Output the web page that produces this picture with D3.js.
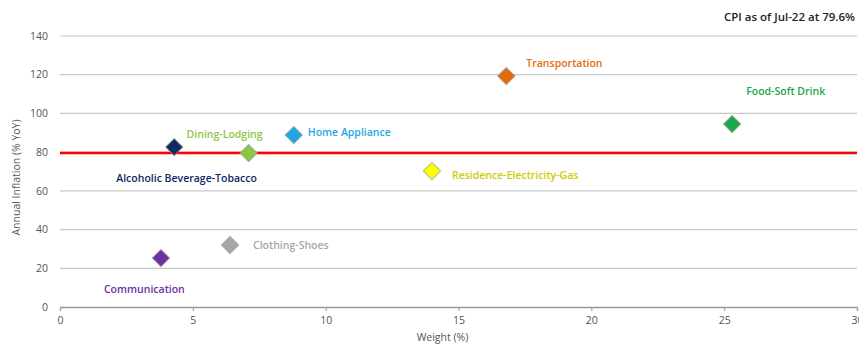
<!DOCTYPE html>
<html>
<head>
<meta charset="utf-8">
<script src="https://cdnjs.cloudflare.com/ajax/libs/d3/7.8.5/d3.min.js"></script>
<style>
  body { margin: 0; background: #fff; }
  svg { font-family: "Open Sans", "Noto Sans", sans-serif; }
</style>
</head>
<body>
<div id="chart"></div>
<script>
// data
const categories = ["Alcoholic Beverage-Tobacco", "Dining-Lodging", "Home Appliance", "Transportation",
                    "Food-Soft Drink", "Residence-Electricity-Gas", "Clothing-Shoes", "Communication"];
const weights   = [4.3, 7.1, 8.8, 16.8, 25.3, 14.0, 6.4, 3.8];
const inflation = [82.6, 79.5, 88.8, 119.3, 94.5, 70.2, 32.0, 25.3];
const colors    = ["#0d2a63", "#8dc63f", "#1ea7e1", "#e36c0a", "#17a84b", "#ffff00", "#a6a6a6", "#7030a0"];
const labelColors = ["#0d2a63", "#8dc63f", "#1ea7e1", "#e36c0a", "#17a84b", "#cccc00", "#a6a6a6", "#7030a0"];
// label offsets relative to the marker (dx, dy)
const labelOffsets = [[-58, 31], [-62, -19], [14, -3], [20, -13], [14, -33], [20, 4], [23, 0], [-57, 31]];
const cpi = 79.6;
const xTicks = [0, 5, 10, 15, 20, 25, 30];
const yTicks = [0, 20, 40, 60, 80, 100, 120, 140];

const width = 859, height = 345;
const margin = { top: 36, right: 2, bottom: 38, left: 60 };

const svg = d3.select("#chart").append("svg")
    .attr("width", width)
    .attr("height", height);

const x = d3.scaleLinear().domain([0, 30]).range([margin.left, width - margin.right]);
const y = d3.scaleLinear().domain([0, 140]).range([height - margin.bottom, margin.top]);

// grid
svg.append("g")
    .selectAll("line")
    .data(yTicks.filter(d => d > 0))
    .enter().append("line")
    .attr("x1", x(0)).attr("x2", x(30))
    .attr("y1", d => y(d)).attr("y2", d => y(d))
    .style("stroke", "#c8c8c8")
    .style("stroke-width", 1.2);

// y tick labels
svg.append("g")
    .selectAll("text")
    .data(yTicks)
    .enter().append("text")
    .attr("x", x(0) - 12)
    .attr("y", d => y(d))
    .attr("dy", "0.35em")
    .attr("text-anchor", "end")
    .style("font-size", "10.5px")
    .style("fill", "#555")
    .text(d => d);

// x axis
const xAxis = svg.append("g")
    .attr("transform", `translate(0,${y(0)})`)
    .call(d3.axisBottom(x).tickValues(xTicks).tickSize(4).tickPadding(6));
xAxis.select(".domain").style("stroke", "#999").style("stroke-width", 1.3);
xAxis.selectAll(".tick line").style("stroke", "#999");
xAxis.selectAll(".tick text")
    .style("font-family", "'Open Sans', sans-serif")
    .style("font-size", "10.5px")
    .style("fill", "#555");

// axis titles
svg.append("text")
    .attr("x", (x(0) + x(30)) / 2 - 16)
    .attr("y", height - 4)
    .attr("text-anchor", "middle")
    .style("font-size", "10.5px")
    .style("fill", "#555")
    .text("Weight (%)");

svg.append("text")
    .attr("transform", `translate(20,${(y(0) + y(140)) / 2 + 6}) rotate(-90)`)
    .attr("text-anchor", "middle")
    .style("font-size", "10.5px")
    .style("fill", "#555")
    .text("Annual Inflation (% YoY)");

// CPI line
svg.append("line")
    .attr("x1", x(0)).attr("x2", x(30))
    .attr("y1", y(cpi)).attr("y2", y(cpi))
    .style("stroke", "#ff0000")
    .style("stroke-width", 2.5);

// title
svg.append("text")
    .attr("x", width - 4)
    .attr("y", 21)
    .attr("text-anchor", "end")
    .style("font-size", "11.5px")
    .style("font-weight", 600)
    .style("fill", "#222")
    .text("CPI as of Jul-22 at " + cpi + "%");

// points
const pts = categories.map((c, i) => ({ name: c, w: weights[i], v: inflation[i], i }));
const diamond = d3.symbol().type(d3.symbolDiamond2).size(190);

const g = svg.append("g")
    .selectAll("g")
    .data(pts)
    .enter().append("g")
    .attr("transform", d => `translate(${x(d.w)},${y(d.v)})`);

g.append("path")
    .attr("d", diamond)
    .style("fill", d => colors[d.i])
    .style("stroke", "#9a9a9a")
    .style("stroke-opacity", 0.6)
    .style("stroke-width", 1.2);

g.append("text")
    .attr("x", d => labelOffsets[d.i][0])
    .attr("y", d => labelOffsets[d.i][1])
    .attr("dy", "0.35em")
    .style("font-size", "10.5px")
    .style("font-weight", 600)
    .style("fill", d => labelColors[d.i])
    .text(d => d.name);
</script>
</body>
</html>
